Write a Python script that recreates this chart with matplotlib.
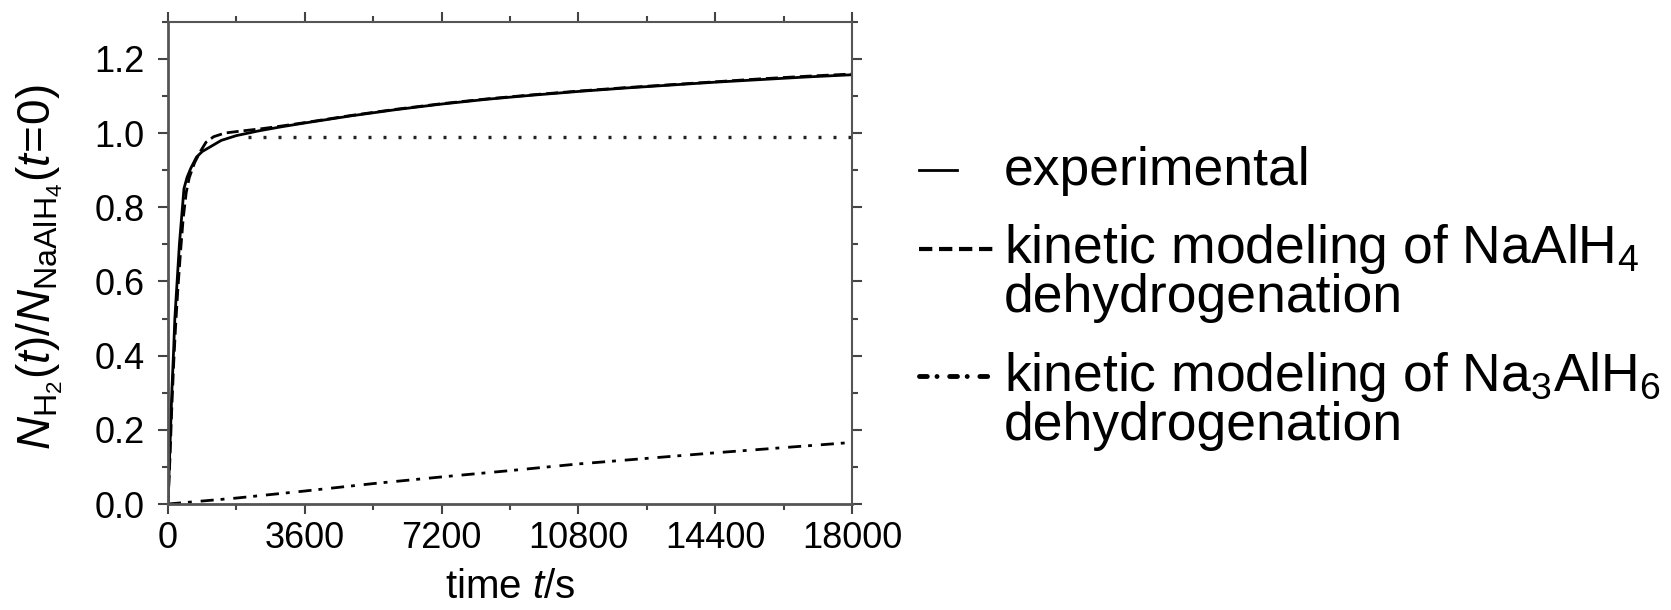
import matplotlib
matplotlib.use("Agg")
import matplotlib.pyplot as plt
from matplotlib.lines import Line2D
from matplotlib.ticker import MultipleLocator

plt.rcParams['font.family'] = ['Liberation Sans', 'DejaVu Sans']
plt.rcParams['mathtext.fontset'] = 'custom'
plt.rcParams['mathtext.rm'] = 'Liberation Sans'
plt.rcParams['mathtext.it'] = 'Liberation Sans:italic'
plt.rcParams['mathtext.bf'] = 'Liberation Sans:bold'

# measured H2 release, normalised to initial NaAlH4
t_exp = [0, 50, 100, 150, 180, 240, 300, 380, 420, 500, 600, 750, 900,
         1100, 1400, 1800, 2400, 3000, 3600, 4800, 6000, 7200, 8400, 9600,
         10800, 12000, 13200, 14400, 15600, 16800, 18000]
n_exp = [0.0, 0.15, 0.30, 0.42, 0.50, 0.60, 0.70, 0.80, 0.85, 0.88, 0.905,
         0.935, 0.95, 0.962, 0.98, 0.993, 1.006, 1.017, 1.027, 1.046, 1.063,
         1.078, 1.091, 1.102, 1.112, 1.121, 1.129, 1.137, 1.144, 1.151, 1.157]

# kinetic model, NaAlH4 step
t_ala = [0, 50, 100, 150, 200, 260, 330, 400, 480, 560, 700, 850, 1000,
         1200, 1500, 1900, 2500, 3000, 3600, 4800, 6000, 7200, 8400, 9600,
         10800, 12000, 13200, 14400, 15600, 16800, 18000]
n_ala = [0.0, 0.12, 0.26, 0.38, 0.48, 0.58, 0.68, 0.77, 0.84, 0.88, 0.92,
         0.95, 0.975, 0.99, 1.0, 1.005, 1.012, 1.019, 1.028, 1.047, 1.064,
         1.079, 1.092, 1.103, 1.113, 1.122, 1.13, 1.138, 1.146, 1.153, 1.159]

# plateau of the first step
t_plat = [2100, 18000]
n_plat = [0.99, 0.99]

# kinetic model, Na3AlH6 step
t_na3 = [0, 1800, 3600, 5400, 7200, 9000, 10800, 12600, 14400, 16200, 18000]
n_na3 = [0.0, 0.016, 0.035, 0.055, 0.073, 0.09, 0.108, 0.123, 0.138,
         0.152, 0.166]

x_ticks = [0, 3600, 7200, 10800, 14400, 18000]
y_ticks = [0.0, 0.2, 0.4, 0.6, 0.8, 1.0, 1.2]

W, H = 1671, 610
fig = plt.figure(figsize=(W / 100, H / 100), dpi=100)
ax = fig.add_axes([168 / W, 1 - 504 / H, (852 - 168) / W, (504 - 21.7) / H])

lw = 2.0
ax.plot(t_plat, n_plat, color='#222222', lw=2.4, linestyle=(0, (0.9, 3.6)))
ax.plot(t_na3, n_na3, color='black', lw=lw, linestyle=(0, (4.7, 2.5, 1.4, 3.2)))
ax.plot(t_ala, n_ala, color='black', lw=lw, linestyle=(0, (4.3, 1.8)))
ax.plot(t_exp, n_exp, color='black', lw=lw)

ax.set_xlim(0, 18000)
ax.set_ylim(0, 1.3)
ax.set_xticks(x_ticks)
ax.set_yticks(y_ticks)
ax.set_yticklabels([f"{v:.1f}" for v in y_ticks])
ax.xaxis.set_minor_locator(MultipleLocator(1800))
ax.yaxis.set_minor_locator(MultipleLocator(0.1))
ax.tick_params(which='both', direction='out', top=True, right=True,
               labeltop=False, labelright=False, color='#444444', width=1.5)
ax.tick_params(axis='y', which='major', length=7, labelsize=26, pad=10)
ax.tick_params(axis='x', which='major', length=7, labelsize=26, pad=5)
ax.tick_params(which='minor', length=4)
for side, sp in ax.spines.items():
    sp.set_color('#555555')
    sp.set_linewidth(2.0 if side in ('left', 'bottom') else 1.5)

ax.set_xlabel('time $t$/s', fontsize=29)
ax.xaxis.set_label_coords(0.5, -0.133)
ax.set_ylabel(r'$N_{\mathrm{H_2}}(t)/N_{\mathrm{NaAlH_4}}(t\!=\!0)$',
              fontsize=33)
ax.yaxis.set_label_coords(-0.15, 0.49)


def fx(px):
    return px / W


def fy(py):
    return 1 - py / H


# legend drawn beside the axes
leg_fs = 38.5
x0, x1, xt = 919, 996, 1004
fig.add_artist(Line2D([fx(x0), fx(957)], [fy(170), fy(170)], color='black',
                      lw=lw))
fig.add_artist(Line2D([fx(x0), fx(x1)], [fy(249), fy(249)], color='black',
                      lw=3, linestyle=(0, (3.2, 1.6))))
fig.add_artist(Line2D([fx(x0), fx(x1)], [fy(376), fy(376)], color='black',
                      lw=3.5, linestyle=(0, (1.6, 2.0, 0.01, 2.6)),
                      dash_capstyle='round'))
fig.text(fx(xt), fy(171), 'experimental', fontsize=leg_fs, va='center')
fig.text(fx(xt), fy(249), 'kinetic modeling of NaAlH$_4$', fontsize=leg_fs,
         va='center')
fig.text(fx(xt), fy(298), 'dehydrogenation', fontsize=leg_fs, va='center')
fig.text(fx(xt), fy(377), 'kinetic modeling of Na$_3$AlH$_6$',
         fontsize=leg_fs, va='center')
fig.text(fx(xt), fy(426), 'dehydrogenation', fontsize=leg_fs, va='center')

fig.savefig('out.png', dpi=100)
